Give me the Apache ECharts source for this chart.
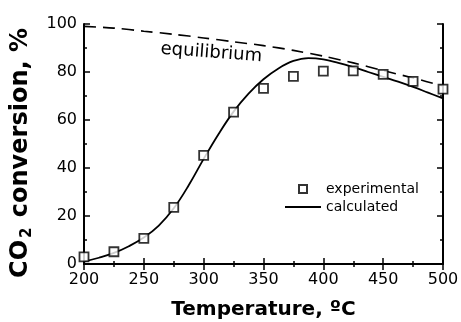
<!DOCTYPE html>
<html>
<head>
<meta charset="utf-8">
<script src="https://cdn.jsdelivr.net/npm/echarts@6/dist/echarts.min.js"></script>
<style>
html, body { margin: 0; padding: 0; background: #fff; }
#chart { width: 461px; height: 322px; }
</style>
</head>
<body>
<div id="chart"></div>
<script>
// experimental points
var expTemp = [200, 225, 250, 275, 300, 325, 350, 375, 400, 425, 450, 475, 500];
var expConv = [3.0, 5.1, 10.7, 23.6, 45.3, 63.3, 73.2, 78.2, 80.4, 80.5, 79.0, 76.1, 72.9];

// calculated curve
var calcTemp = [200, 212.5, 225, 237.5, 250, 262.5, 275, 287.5, 300, 312.5, 325, 337.5, 350, 362.5, 375, 387.5, 400, 412.5, 425, 437.5, 450, 462.5, 475, 487.5, 500];
var calcConv = [1.0, 2.6, 4.6, 7.4, 11.0, 16.0, 23.2, 32.8, 43.8, 54.2, 63.5, 71.0, 77.0, 81.5, 84.6, 85.8, 85.3, 83.8, 82.0, 80.0, 78.0, 76.0, 73.8, 71.4, 69.0];

// equilibrium (dashed)
var eqTemp = [200, 225, 250, 275, 300, 325, 350, 375, 400, 425, 450, 475, 500];
var eqConv = [99.0, 98.3, 97.0, 95.7, 94.2, 92.6, 91.0, 89.0, 86.6, 83.8, 80.6, 77.5, 74.2];

var xTicks = [200, 250, 300, 350, 400, 450, 500];
var yTicks = [0, 20, 40, 60, 80, 100];

function pairs(xs, ys) {
	var out = [];
	for (var i = 0; i < xs.length; i++) {
		out.push([xs[i], ys[i]]);
	}
	return out;
}

var font = 'DejaVu Sans';
var myChart = echarts.init(document.getElementById('chart'));

var tickLine = { color: '#000', width: 1.5 };

var option = {
	animation: false,
	grid: { left: 84, right: 18, top: 24, bottom: 58, outerBoundsMode: 'none' },
	legend: {
		orient: 'vertical',
		left: 285,
		top: 182,
		padding: 0,
		itemGap: 4,
		itemWidth: 36,
		itemHeight: 8,
		textStyle: { fontFamily: font, fontSize: 14, color: '#000' },
		data: [
			{ name: 'experimental', icon: 'path://M0,0L10,0L10,10L0,10Z' },
			{ name: 'calculated', icon: 'path://M0,0L36,0L36,1.8L0,1.8Z' }
		]
	},
	xAxis: [{
		type: 'value',
		min: xTicks[0],
		max: xTicks[xTicks.length - 1],
		interval: 50,
		name: 'Temperature, ºC',
		nameLocation: 'middle',
		nameGap: 36,
		nameTextStyle: { fontFamily: font, fontSize: 20, fontWeight: 'bold', color: '#000' },
		axisLine: { lineStyle: { color: '#000', width: 2 } },
		axisTick: { inside: true, length: 6, lineStyle: tickLine },
		minorTick: { show: true, splitNumber: 2, length: 3, lineStyle: tickLine },
		axisLabel: { fontFamily: font, fontSize: 16, color: '#000', margin: 8 },
		splitLine: { show: false }
	}, {
		type: 'value',
		position: 'top',
		min: xTicks[0],
		max: xTicks[xTicks.length - 1],
		interval: 50,
		axisLine: { lineStyle: { color: '#000', width: 2 } },
		axisTick: { inside: true, length: 6, lineStyle: tickLine },
		minorTick: { show: true, splitNumber: 2, length: 3, lineStyle: tickLine },
		axisLabel: { show: false },
		splitLine: { show: false }
	}],
	yAxis: [{
		type: 'value',
		min: yTicks[0],
		max: yTicks[yTicks.length - 1],
		interval: 20,
		name: '{b|CO}{s|2}{b| conversion, %}',
		nameLocation: 'middle',
		nameRotate: 90,
		nameGap: 49,
		nameTextStyle: {
			padding: [0, 18, 0, 0],
			rich: {
				b: { fontFamily: font, fontSize: 24, fontWeight: 'bold', color: '#000', lineHeight: 28 },
				s: { fontFamily: font, fontSize: 15, fontWeight: 'bold', color: '#000', lineHeight: 28, verticalAlign: 'bottom', padding: [8, 2, 0, 2] }
			}
		},
		axisLine: { lineStyle: { color: '#000', width: 2 } },
		axisTick: { inside: true, length: 6, lineStyle: tickLine },
		minorTick: { show: true, splitNumber: 2, length: 3, lineStyle: tickLine },
		axisLabel: { fontFamily: font, fontSize: 16, color: '#000', margin: 7 },
		splitLine: { show: false }
	}, {
		type: 'value',
		position: 'right',
		min: yTicks[0],
		max: yTicks[yTicks.length - 1],
		interval: 20,
		axisLine: { lineStyle: { color: '#000', width: 2 } },
		axisTick: { inside: true, length: 6, lineStyle: tickLine },
		minorTick: { show: true, splitNumber: 2, length: 3, lineStyle: tickLine },
		axisLabel: { show: false },
		splitLine: { show: false }
	}],
	graphic: [{
		type: 'text',
		left: 160,
		top: 40,
		rotation: -0.075,
		style: { text: 'equilibrium', fontFamily: font, fontSize: 18, fill: '#000' }
	}],
	series: [{
		name: 'equilibrium',
		type: 'line',
		data: pairs(eqTemp, eqConv),
		smooth: 0.3,
		symbol: 'none',
		lineStyle: { color: '#000', width: 1.6, type: [12, 7] },
		z: 2
	}, {
		name: 'calculated',
		type: 'line',
		data: pairs(calcTemp, calcConv),
		smooth: 0.4,
		symbol: 'none',
		lineStyle: { color: '#000', width: 1.8 },
		itemStyle: { color: '#000' },
		z: 3
	}, {
		name: 'experimental',
		type: 'scatter',
		data: pairs(expTemp, expConv),
		symbol: 'rect',
		symbolSize: 9,
		clip: true,
		itemStyle: { color: '#fff', borderColor: '#000', borderWidth: 1.8 },
		z: 4
	}]
};
myChart.setOption(option);
</script>
</body>
</html>
